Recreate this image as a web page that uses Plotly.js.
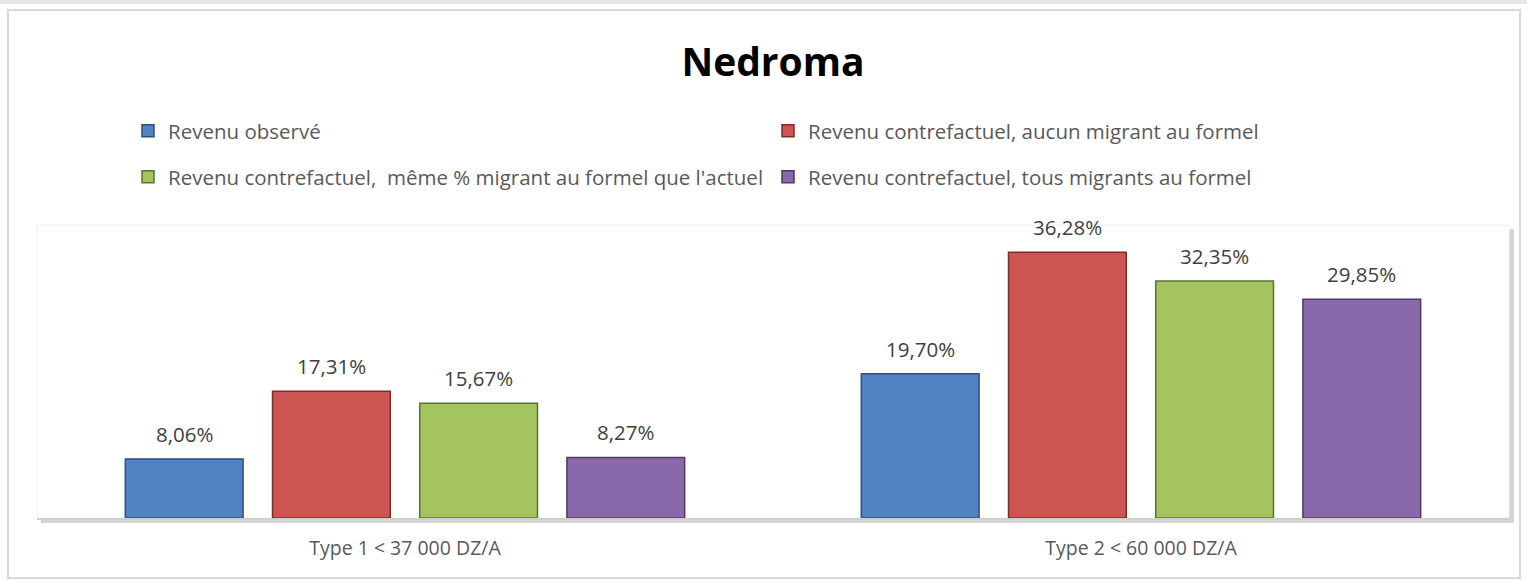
<!DOCTYPE html>
<html>
<head>
<meta charset="utf-8">
<script src="https://cdn.plot.ly/plotly-3.0.1.min.js"></script>
<style>html,body{margin:0;padding:0;background:#fff;}#chart{width:1527px;height:580px;}</style>
</head>
<body>
<div id="chart"></div>
<script>
const categories = ["Type 1 < 37 000 DZ/A", "Type 2 < 60 000 DZ/A"];
const seriesNames = [
  "Revenu observé",
  "Revenu contrefactuel, aucun migrant au formel",
  "Revenu contrefactuel,  même % migrant au formel que l'actuel",
  "Revenu contrefactuel, tous migrants au formel"
];
const observe = [0.0806, 0.1970];
const aucun = [0.1731, 0.3628];
const meme = [0.1567, 0.3235];
const tous = [0.0827, 0.2985];
const colors = ["#5283C5", "#CD5451", "#A4C45F", "#8969A9"];
const edges = ["#2F4F78", "#7A2E2C", "#5C7433", "#4E3A66"];
const legendOf = ["legend", "legend", "legend2", "legend2"];

const W = 1527, H = 580;
const M = {l: 37, r: 18, t: 225, b: 62};
const pw = W - M.l - M.r, ph = H - M.t - M.b;
const px = x => (x - M.l) / pw;
const py = y => (H - M.b - y) / ph;
const FONT = 'Open Sans, sans-serif';

const vals = [observe, aucun, meme, tous];
const traces = vals.map((v, i) => ({
  type: 'bar',
  name: seriesNames[i],
  legend: legendOf[i],
  x: categories,
  y: v,
  marker: {color: colors[i], line: {color: edges[i], width: 1.5}},
  hoverinfo: 'x+y+name'
}));

// data labels placed through the axes, shifted to each bar of the group
const slot = pw / categories.length * 0.8 / vals.length;
const annotations = [];
vals.forEach((v, i) => {
  v.forEach((val, j) => {
    annotations.push({
      x: categories[j], y: val, xref: 'x', yref: 'y',
      xshift: (i - (vals.length - 1) / 2) * slot, yshift: 9,
      yanchor: 'bottom', showarrow: false,
      text: (val * 100).toFixed(2).replace('.', ',') + '%',
      font: {family: FONT, size: 20.5, color: '#404040'}
    });
  });
});

const legendBase = {
  orientation: 'h', xref: 'container', yref: 'container', yanchor: 'middle', xanchor: 'left',
  entrywidth: 595, entrywidthmode: 'pixels', traceorder: 'normal',
  font: {family: FONT, size: 20.5, color: '#595959'},
  itemwidth: 30, bgcolor: 'rgba(0,0,0,0)'
};

const layout = {
  width: W, height: H,
  margin: M,
  paper_bgcolor: '#ffffff',
  plot_bgcolor: '#ffffff',
  separators: ', ',
  barmode: 'group',
  bargap: 0.2,
  bargroupgap: 0.2,
  title: {text: '<b>Nedroma</b>', x: 0.5, xref: 'paper', xanchor: 'center', y: 1 - 62/H, yanchor: 'middle',
    font: {family: FONT, size: 39, color: '#000000'}},
  showlegend: true,
  legend: Object.assign({}, legendBase, {x: 128/W, y: 1 - 131/H}),
  legend2: Object.assign({}, legendBase, {x: 128/W, y: 1 - 177/H}),
  xaxis: {
    type: 'category', showgrid: false, zeroline: false, showline: true, linecolor: '#d0d0d0', linewidth: 2,
    ticks: '', ticklabelstandoff: 12,
    tickfont: {family: FONT, size: 19.5, color: '#595959'}
  },
  yaxis: {range: [0, 0.40], visible: false, showgrid: false, zeroline: false, fixedrange: true},
  annotations: annotations,
  shapes: [
    {type: 'rect', xref: 'paper', yref: 'paper', x0: px(8), x1: px(1520), y0: py(10), y1: py(578),
     line: {color: '#d9d9d9', width: 2}, fillcolor: 'rgba(0,0,0,0)', layer: 'below'},
    {type: 'rect', xref: 'paper', yref: 'paper', x0: px(0), x1: px(1527), y0: py(0), y1: py(4),
     line: {width: 0}, fillcolor: '#e6e6e6', layer: 'below'},
    {type: 'rect', xref: 'paper', yref: 'paper', x0: px(41), x1: px(1514), y0: py(229), y1: py(523),
     line: {width: 0}, fillcolor: '#d4d4d4', layer: 'below'},
    {type: 'rect', xref: 'paper', yref: 'paper', x0: px(37), x1: px(1509), y0: py(225), y1: py(518),
     line: {color: '#f0f0f0', width: 1}, fillcolor: '#ffffff', layer: 'below'}
  ]
};

Plotly.newPlot('chart', traces, layout, {displayModeBar: false});
</script>
</body>
</html>
